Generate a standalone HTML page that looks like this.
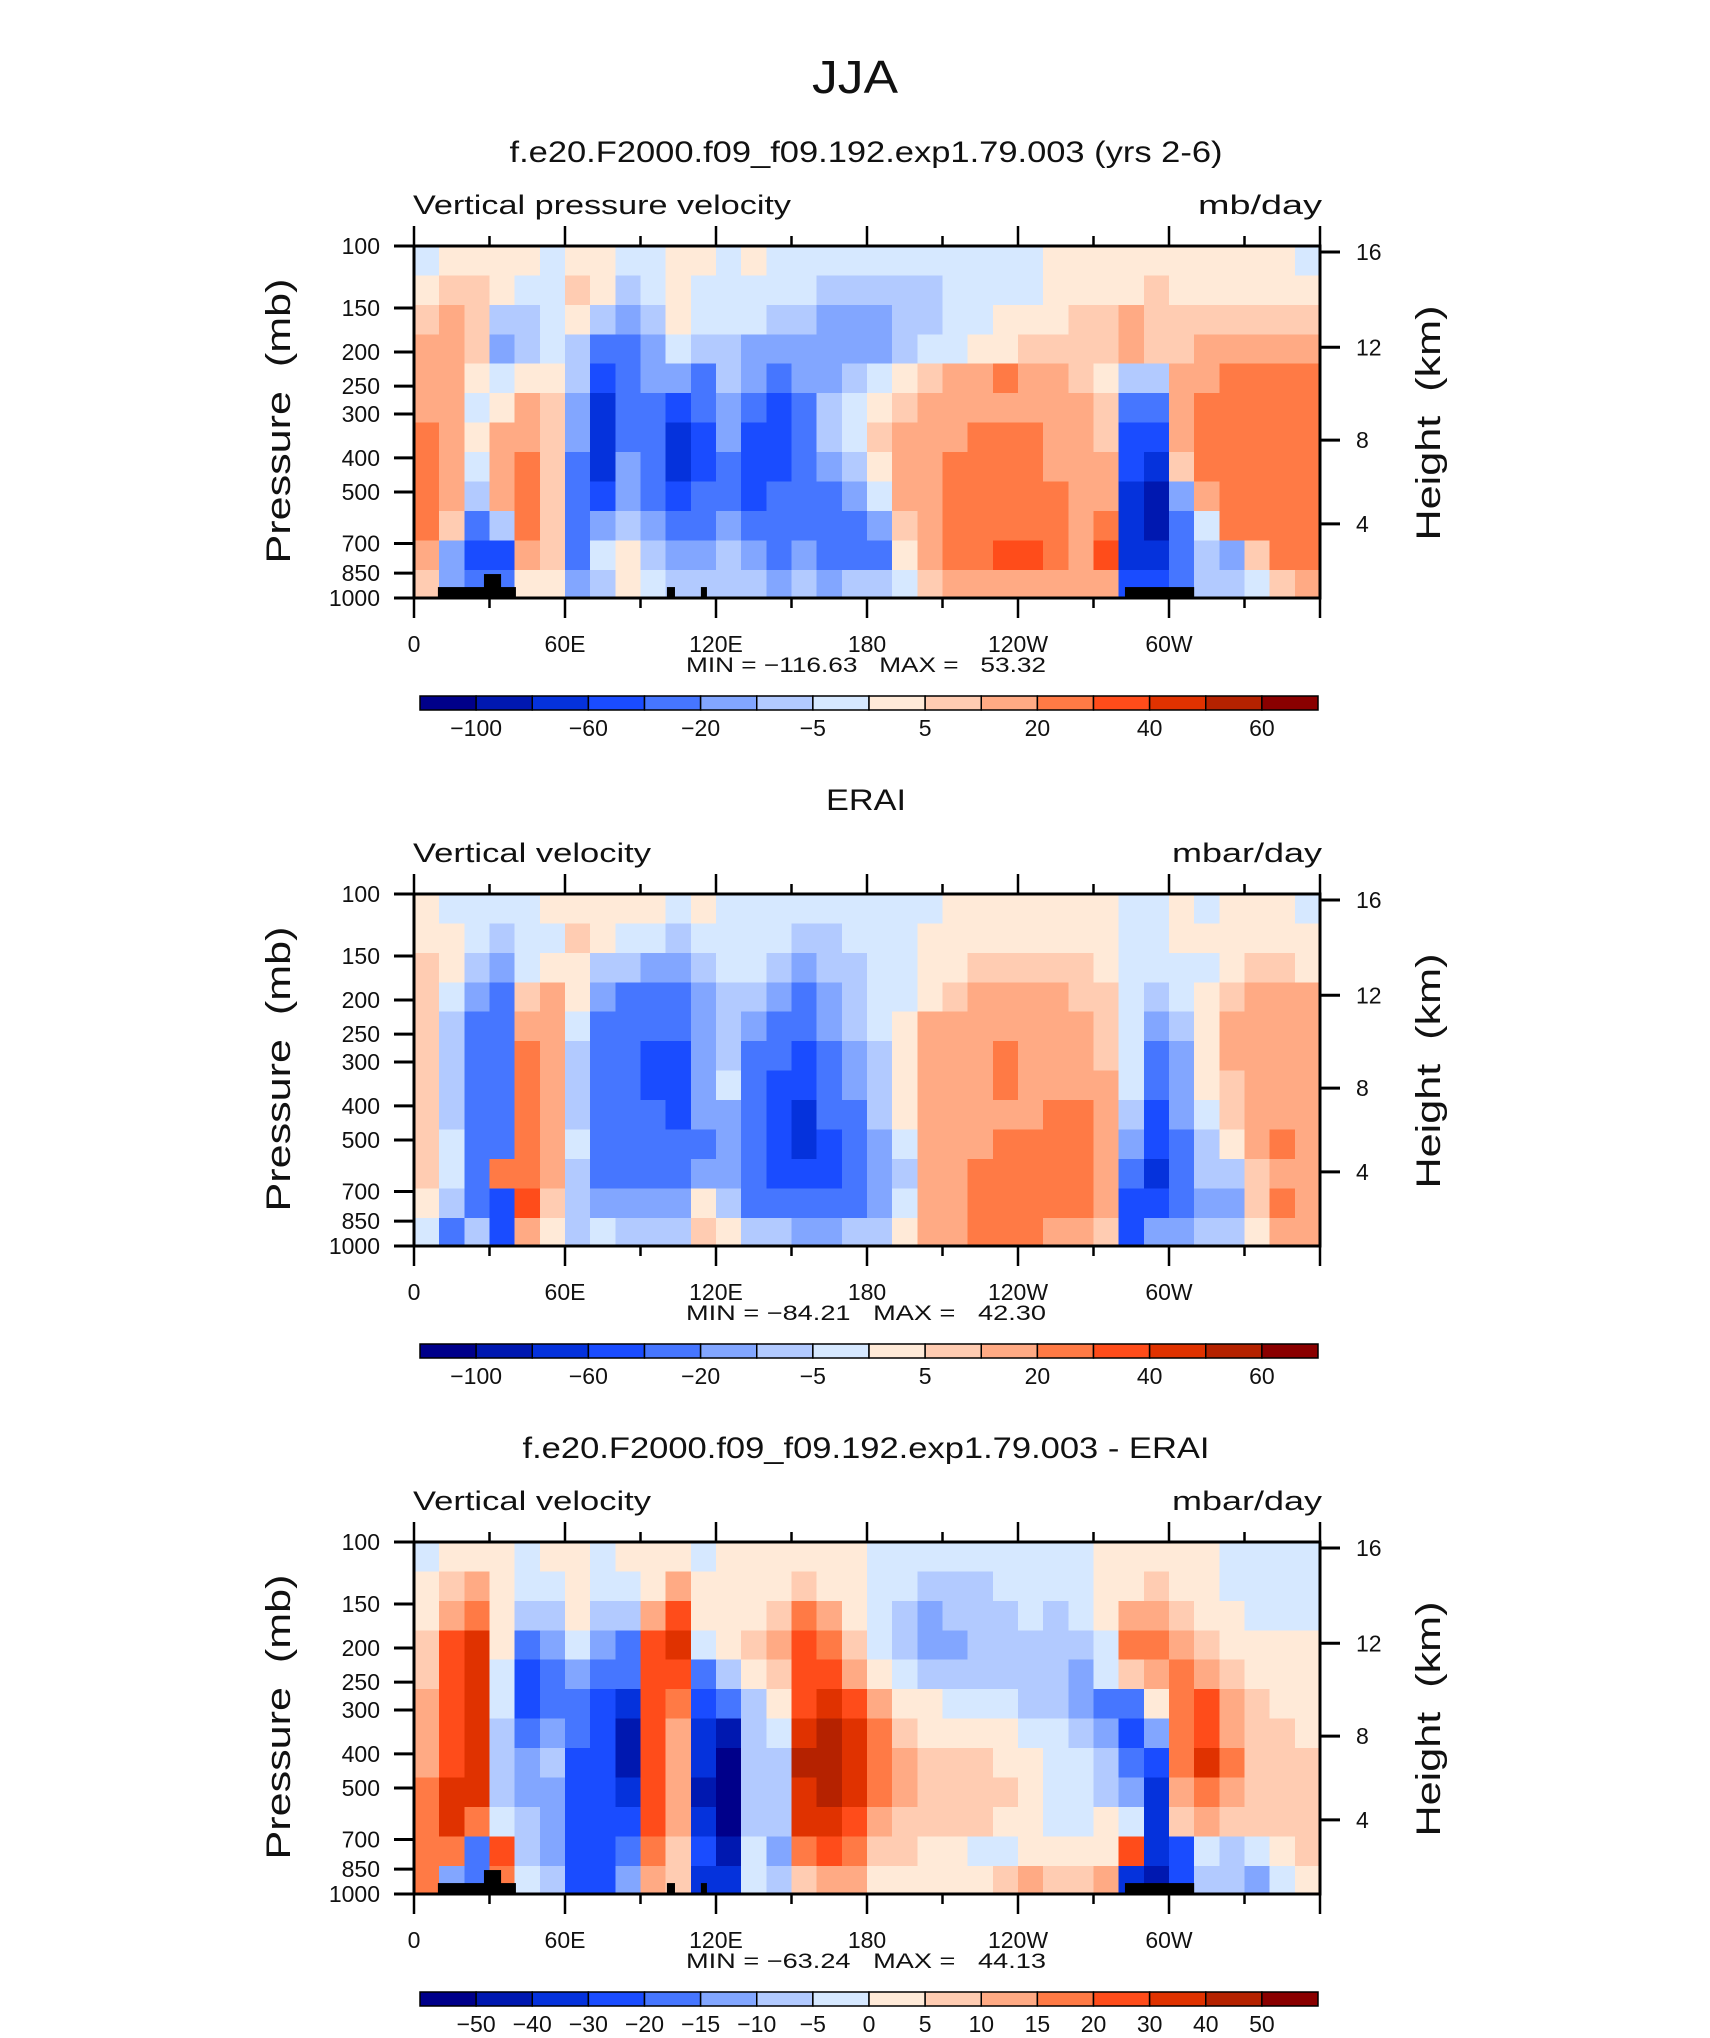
<!DOCTYPE html>
<html><head><meta charset="utf-8">
<style>
html,body{margin:0;padding:0;background:#fff;}
svg{display:block;font-family:"Liberation Sans",sans-serif;}
svg text{white-space:pre;}
</style></head>
<body>
<svg id="fig" width="1710" height="2038" viewBox="0 0 1710 2038" xmlns="http://www.w3.org/2000/svg" xml:space="preserve">
<rect width="1710" height="2038" fill="#fff"/>
<text x="855" y="93" font-size="46" text-anchor="middle" fill="#111" font-weight="300" textLength="86" lengthAdjust="spacingAndGlyphs">JJA</text>
</svg>
<script>
// ---------- data ----------
const lonTicks = [0, 60, 120, 180, 240, 300];
const lonTickLabels = ["0", "60E", "120E", "180", "120W", "60W"];
const presTicks = [100, 150, 200, 250, 300, 400, 500, 700, 850, 1000];
const heightTicks = [4, 8, 12, 16];
const heightTickPres = [616, 356, 194, 104];
const rowPres = [110, 134, 162, 196, 238, 288, 350, 424, 514, 624, 756, 917];
const colLon = [5,15,25,35,45,55,65,75,85,95,105,115,125,135,145,155,165,175,185,195,205,215,225,235,245,255,265,275,285,295,305,315,325,335,345,355];

const levelsAbs = [-100,-80,-60,-40,-20,-10,-5,0,5,10,20,30,40,50,60];
const levelsDiff = [-50,-40,-30,-20,-15,-10,-5,0,5,10,15,20,30,40,50];
const labelsAbs = ["−100","−60","−20","−5","5","20","40","60"];
const labelsAbsIdx = [0,2,4,6,8,10,12,14];
const labelsDiff = ["−50","−40","−30","−20","−15","−10","−5","0","5","10","15","20","30","40","50"];
const labelsDiffIdx = [0,1,2,3,4,5,6,7,8,9,10,11,12,13,14];
const palette = ["#00008a","#0018b0","#0532dc","#1a4cff","#4676ff","#82a6ff","#b2caff","#d6e8ff","#ffead8","#ffccb2","#ffaa84","#ff7a45","#ff4c1a","#e03200","#b52200","#8a0000"];

const omegaModel = [
[-2,2,2,2,2,-2,2,2,-2,-2,2,2,-2,2,-2,-2,-2,-2,-2,-2,-2,-2,-2,-2,-2,2,2,2,2,2,2,2,2,2,2,-2],
[2,7,7,2,-2,-2,7,2,-7,-2,2,-2,-2,-2,-2,-2,-7,-7,-7,-7,-7,-2,-2,-2,-2,2,2,2,2,7,2,2,2,2,2,2],
[7,15,7,-7,-7,-2,2,-7,-15,-7,2,-2,-2,-2,-7,-7,-15,-15,-15,-7,-7,-2,-2,2,2,2,7,7,15,7,7,7,7,7,7,7],
[15,15,7,-15,-7,-2,-7,-30,-30,-15,-2,-7,-7,-15,-15,-15,-15,-15,-15,-7,-2,-2,2,2,7,7,7,7,15,7,7,15,15,15,15,15],
[15,15,2,-2,2,2,-7,-50,-30,-15,-15,-30,-7,-15,-30,-15,-15,-7,-2,2,7,15,15,25,15,15,7,2,-7,-7,15,15,25,25,25,25],
[15,15,-2,2,15,7,-15,-70,-30,-30,-50,-30,-15,-30,-50,-30,-7,-2,2,7,15,15,15,15,15,15,15,7,-30,-30,15,25,25,25,25,25],
[25,15,2,15,15,7,-15,-70,-30,-30,-70,-50,-15,-50,-50,-30,-7,-2,7,15,15,15,25,25,25,15,15,7,-50,-50,15,25,25,25,25,25],
[25,15,-2,15,25,7,-30,-70,-15,-30,-70,-50,-30,-50,-50,-30,-15,-7,2,15,15,25,25,25,25,15,15,15,-50,-70,7,25,25,25,25,25],
[25,15,-7,15,25,7,-30,-50,-15,-30,-50,-30,-30,-50,-30,-30,-30,-15,-2,15,15,25,25,25,25,25,15,15,-70,-90,-15,15,25,25,25,25],
[25,7,-30,-7,25,7,-30,-15,-7,-15,-30,-30,-15,-30,-30,-30,-30,-30,-15,7,15,25,25,25,25,25,15,25,-70,-90,-30,-2,25,25,25,25],
[15,-15,-50,-50,15,7,-30,-2,2,-7,-15,-15,-7,-15,-30,-15,-30,-30,-30,2,15,25,25,35,35,25,15,35,-70,-70,-30,-7,-15,7,25,25],
[7,-15,-30,-30,2,2,-15,-7,2,-2,-7,-7,-7,-7,-15,-7,-15,-7,-7,-2,7,15,15,15,15,15,15,15,-50,-50,-30,-7,-7,-2,7,15]
];
const omegaObs = [
[2,-2,-2,-2,-2,2,2,2,2,2,-2,2,-2,-2,-2,-2,-2,-2,-2,-2,-2,2,2,2,2,2,2,2,-2,-2,2,-2,2,2,2,-2],
[2,2,-2,-7,-2,-2,7,2,-2,-2,-7,-2,-2,-2,-2,-7,-7,-2,-2,-2,2,2,2,2,2,2,2,2,-2,-2,2,2,2,2,2,2],
[7,2,-7,-15,-2,2,2,-7,-7,-15,-15,-7,-2,-2,-7,-15,-7,-7,-2,-2,2,2,7,7,7,7,7,2,-2,-2,-2,-2,2,7,7,2],
[7,-2,-15,-30,7,15,2,-15,-30,-30,-30,-15,-7,-7,-15,-30,-15,-7,-2,-2,2,7,15,15,15,15,7,7,-2,-7,-2,2,7,15,15,15],
[7,-7,-30,-30,15,15,-2,-30,-30,-30,-30,-15,-7,-15,-30,-30,-15,-7,-2,2,15,15,15,15,15,15,15,7,-2,-15,-7,2,15,15,15,15],
[7,-7,-30,-30,25,15,-7,-30,-30,-50,-50,-15,-7,-30,-30,-50,-30,-15,-7,2,15,15,15,25,15,15,15,7,-2,-30,-15,2,15,15,15,15],
[7,-7,-30,-30,25,15,-7,-30,-30,-50,-50,-15,-2,-30,-50,-50,-30,-15,-7,2,15,15,15,25,15,15,15,15,-2,-30,-15,2,7,15,15,15],
[7,-7,-30,-30,25,15,-7,-30,-30,-30,-50,-15,-15,-30,-50,-70,-30,-30,-7,2,15,15,15,15,15,25,25,15,-7,-50,-15,-2,7,15,15,15],
[7,-2,-30,-30,25,15,-2,-30,-30,-30,-30,-30,-15,-30,-50,-70,-50,-30,-15,-2,15,15,15,25,25,25,25,15,-15,-50,-30,-7,2,15,25,15],
[7,-2,-30,25,25,15,-7,-30,-30,-30,-30,-15,-15,-30,-50,-50,-50,-30,-15,-7,15,15,25,25,25,25,25,15,-30,-70,-30,-7,-7,7,15,15],
[2,-7,-30,-50,35,7,-7,-15,-15,-15,-15,2,-7,-30,-30,-30,-30,-30,-15,-2,15,15,25,25,25,25,25,15,-50,-50,-30,-15,-15,7,25,15],
[-2,-30,-7,-50,15,2,-7,-2,-7,-7,-7,7,2,-7,-7,-15,-15,-7,-7,2,15,15,25,25,25,15,15,7,-50,-15,-15,-7,-7,2,15,15]
];
const omegaDiff = [
[-2,2,2,2,-2,2,2,-2,2,2,2,-2,2,2,2,2,2,2,-2,-2,-2,-2,-2,-2,-2,-2,-2,2,2,2,2,2,-2,-2,-2,-2],
[2,7,12,2,-2,-2,2,-2,-2,2,12,2,2,2,2,7,2,2,-2,-2,-7,-7,-7,-2,-2,-2,-2,2,2,7,2,2,-2,-2,-2,-2],
[2,12,17,2,-7,-7,2,-7,-7,12,25,2,2,2,7,17,12,2,-2,-7,-12,-7,-7,-7,-2,-7,-2,2,12,12,7,2,2,-2,-2,-2],
[7,25,35,2,-17,-12,-2,-12,-17,25,35,-2,2,7,12,25,17,7,-2,-7,-12,-12,-7,-7,-7,-7,-7,-2,17,17,12,7,2,2,2,2],
[7,25,35,-2,-25,-17,-12,-17,-17,25,25,-17,-7,2,7,25,25,12,2,-2,-7,-7,-7,-7,-7,-7,-12,-2,7,12,17,12,7,2,2,2],
[12,25,35,-2,-25,-17,-17,-25,-35,25,17,-25,-17,-7,2,25,35,25,12,2,2,-2,-2,-2,-7,-7,-12,-17,-17,2,17,25,12,7,2,2],
[12,25,35,-7,-17,-12,-17,-25,-45,25,12,-35,-45,-7,-2,35,45,35,17,7,2,2,2,2,-2,-2,-7,-12,-25,-12,17,25,12,7,7,2],
[12,25,35,-7,-12,-7,-25,-25,-45,25,12,-35,-55,-7,-7,45,45,35,17,12,7,7,7,2,2,-2,-2,-7,-17,-25,17,35,17,7,7,7],
[17,35,35,-7,-12,-12,-25,-25,-35,25,12,-45,-55,-7,-7,35,45,35,17,12,7,7,7,7,2,-2,-2,-7,-12,-35,12,17,12,7,7,7],
[17,35,17,-2,-7,-12,-25,-25,-25,25,12,-35,-55,-7,-7,35,35,25,12,7,7,7,7,2,2,-2,-2,2,-2,-35,7,12,7,7,7,7],
[17,17,-17,25,-7,-12,-25,-25,-17,17,7,-25,-45,-2,-12,17,25,17,7,7,2,2,-2,-2,2,2,2,2,25,-35,-25,-2,-7,-2,2,7],
[17,-12,-17,17,-2,-7,-25,-25,-12,12,7,-35,-35,-2,-7,7,12,12,2,2,2,2,2,7,12,7,7,12,-35,-45,-25,-7,-7,-12,-2,2]
];
// topography blocks: [lonStart, lonEnd, topPressure]
const topoLon0 = [9.5, 27.8, 100.5, 114, 282.5];
const topoLon1 = [40.5, 34.6, 103.7, 116.4, 310];
const topoPres = [931, 855, 931, 931, 931];

// ---------- drawing ----------
const NS = "http://www.w3.org/2000/svg";
const svg = document.getElementById("fig");
const X0 = 414, X1 = 1320, PH = 352;
function el(tag, attrs, parent) {
  const e = document.createElementNS(NS, tag);
  for (const k in attrs) e.setAttribute(k, attrs[k]);
  (parent || svg).appendChild(e);
  return e;
}
function xScale(lon) { return X0 + (lon / 360) * (X1 - X0); }
function yScale(p, T) { return T + (1 - Math.log10(1000 / p)) * PH; }
function levelIndex(v, levels) { let i = 0; while (i < levels.length && v >= levels[i]) i++; return i; }
function txt(x, y, s, size, anchor, name, len) {
  const t = el("text", {x: x, y: y, "font-size": size, "text-anchor": anchor || "start", fill: "#111"});
  if (len) { t.setAttribute("textLength", len); t.setAttribute("lengthAdjust", "spacingAndGlyphs"); }
  t.textContent = s;
  
  
  return t;
}

function panel(T, title, titleLen, sub, subLen, units, unitsLen, data, levels, labels, labelIdx, minmax, topo, key) {
  const g = el("g", {});
  
  
  txt(866, T - 84, title, 30, "middle", key + '-title', titleLen);
  txt(413, T - 32, sub, 27, "start", key + '-variable-label', subLen);
  txt(1322, T - 32, units, 27, "end", key + '-units-label', unitsLen);
  // cells
  const cg = el("g", {"shape-rendering": "crispEdges"}, g);
  
  
  const bounds = [100];
  for (let r = 0; r < rowPres.length - 1; r++) bounds.push(Math.sqrt(rowPres[r] * rowPres[r + 1]));
  bounds.push(1000);
  for (let r = 0; r < data.length; r++) {
    for (let c = 0; c < data[r].length; c++) {
      const lonA = colLon[c] - 5, lonB = colLon[c] + 5;
      const xa = xScale(lonA), xb = xScale(lonB);
      const ya = yScale(bounds[r], T), yb = yScale(bounds[r + 1], T);
      const cell = el("rect", {x: xa, y: ya, width: xb - xa + 0.6, height: yb - ya + 0.6, fill: palette[levelIndex(data[r][c], levels)]}, cg);
      
      
    }
  }
  if (topo) {
    for (let i = 0; i < topoLon0.length; i++) {
      const b = el("rect", {x: xScale(topoLon0[i]), y: yScale(topoPres[i], T), width: xScale(topoLon1[i]) - xScale(topoLon0[i]), height: T + PH - yScale(topoPres[i], T), fill: "#000"}, g);
      
      
    }
  }
  // frame
  const fr = el("rect", {x: X0, y: T, width: X1 - X0, height: PH, fill: "none", stroke: "#000", "stroke-width": 3}, g);
  
  
  // lon ticks
  for (let lon = 0; lon <= 360; lon += 30) {
    const x = xScale(lon), len = lon % 60 === 0 ? 20 : 10;
    el("line", {x1: x, x2: x, y1: T, y2: T - len, stroke: "#000", "stroke-width": 2.5}, g);
    el("line", {x1: x, x2: x, y1: T + PH, y2: T + PH + len, stroke: "#000", "stroke-width": 2.5}, g);
  }
  for (let i = 0; i < lonTicks.length; i++) txt(xScale(lonTicks[i]), T + 406, lonTickLabels[i], 23, "middle", 'x-tick-label');
  // pressure ticks
  for (let i = 0; i < presTicks.length; i++) {
    const y = yScale(presTicks[i], T);
    el("line", {x1: X0 - 20, x2: X0, y1: y, y2: y, stroke: "#000", "stroke-width": 3}, g);
    txt(380, y + 8, String(presTicks[i]), 23, "end", 'y-tick-label');
  }
  for (let i = 0; i < heightTicks.length; i++) {
    const y = yScale(heightTickPres[i], T);
    el("line", {x1: X1, x2: X1 + 20, y1: y, y2: y, stroke: "#000", "stroke-width": 3}, g);
    txt(1356, y + 8, String(heightTicks[i]), 23, "start", 'height-tick-label');
  }
  const yl = txt(0, 0, "Pressure  (mb)", 34, "middle", 'y-axis-title', 285);
  yl.setAttribute("transform", "translate(290," + (T + 175) + ") rotate(-90)");
  const hl = txt(0, 0, "Height  (km)", 34, "middle", 'right-axis-title', 235);
  hl.setAttribute("transform", "translate(1440," + (T + 177) + ") rotate(-90)");
  txt(866, T + 426, minmax, 21, "middle", 'min-max-label', 360);
  // colorbar
  const cx0 = 420, cx1 = 1318, cw = (cx1 - cx0) / 16;
  for (let i = 0; i < 16; i++) {
    const b = el("rect", {x: cx0 + i * cw, y: T + 450, width: cw, height: 14, fill: palette[i], stroke: "#000", "stroke-width": 1.5}, g);
    
    
  }
  for (let i = 0; i < labels.length; i++) {
    txt(cx0 + (labelIdx[i] + 1) * cw, T + 490, labels[i], 23, "middle", 'colorbar-label');
  }
}
panel(246, "f.e20.F2000.f09_f09.192.exp1.79.003 (yrs 2-6)", 713, "Vertical pressure velocity", 378, "mb/day", 124,
  omegaModel, levelsAbs, labelsAbs, labelsAbsIdx, "MIN = −116.63   MAX =   53.32", true, 'model');
panel(894, "ERAI", 80, "Vertical velocity", 238, "mbar/day", 150,
  omegaObs, levelsAbs, labelsAbs, labelsAbsIdx, "MIN = −84.21   MAX =   42.30", false, 'erai');
panel(1542, "f.e20.F2000.f09_f09.192.exp1.79.003 - ERAI", 687, "Vertical velocity", 238, "mbar/day", 150,
  omegaDiff, levelsDiff, labelsDiff, labelsDiffIdx, "MIN = −63.24   MAX =   44.13", true, 'diff');
</script>
</body></html>
